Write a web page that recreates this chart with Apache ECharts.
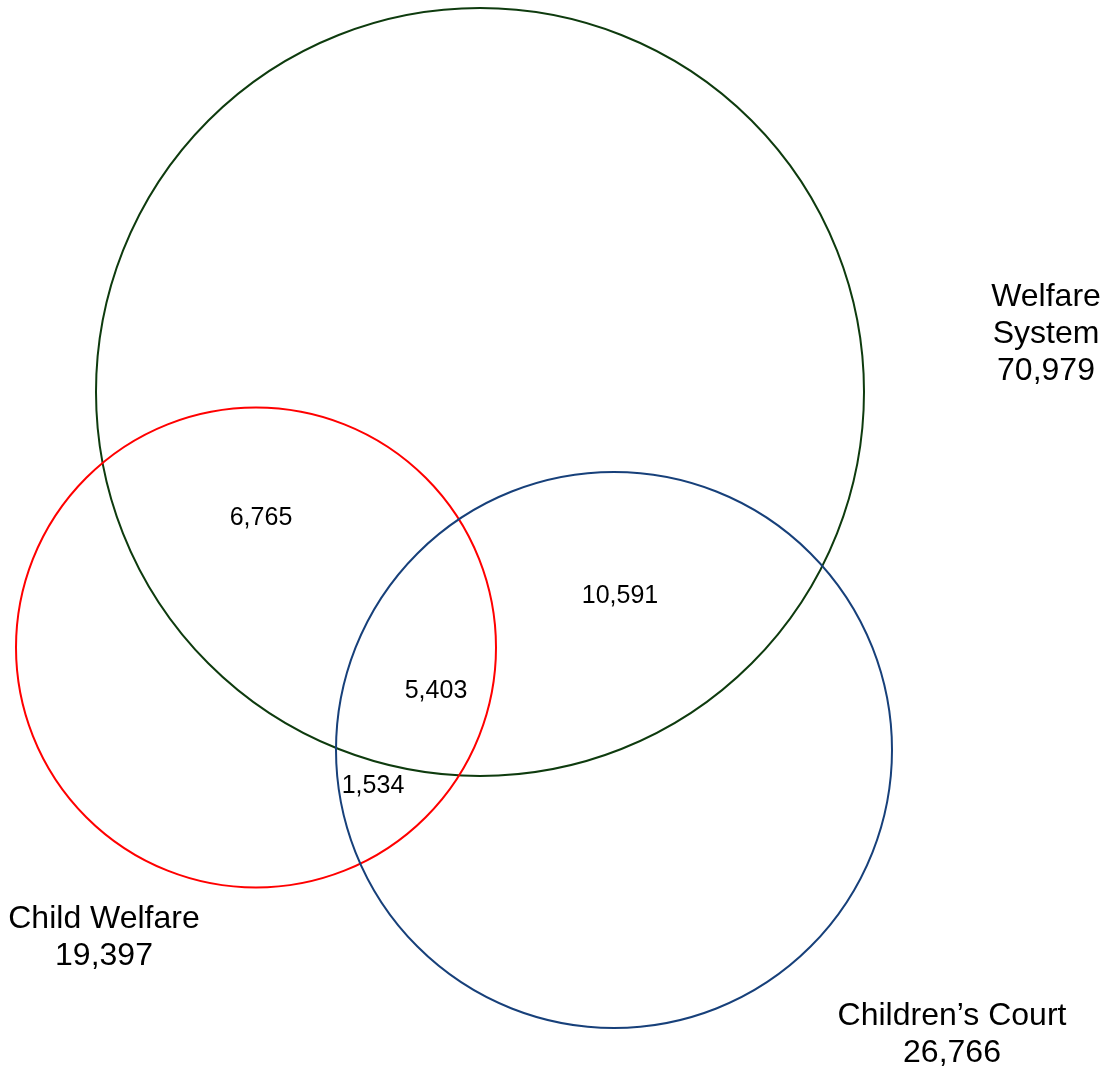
<!DOCTYPE html>
<html>
<head>
<meta charset="utf-8">
<script src="https://cdn.jsdelivr.net/npm/echarts@6/dist/echarts.min.js"></script>
<style>html,body{margin:0;padding:0;background:#fff;}#chart{width:1110px;height:1068px;}</style>
</head>
<body>
<div id="chart"></div>
<script>
// Sets
const setNames = ['Welfare System', 'Child Welfare', 'Children\u2019s Court'];
const setTotals = [70979, 19397, 26766];
// Circle geometry in diagram units
const circleX = [480, 256, 614];
const circleY = [392, 647.5, 750];
const circleR = [384, 240, 278];
const circleColors = ['#0e3b0e', '#ff0000', '#17407a'];
// Set label anchors
const setLabelX = [1046, 104, 952];
const setLabelY = [334, 938, 1035];
// Overlap regions
const regionNames = ['WS & CW', 'WS & CC', 'WS & CW & CC', 'CW & CC'];
const regionValues = [6765, 10591, 5403, 1534];
const regionX = [261, 620, 436, 373];
const regionY = [518, 596, 691, 786];

const fmt = v => v.toLocaleString('en-US');
const FONT = '"Liberation Sans", Arial, sans-serif';

function textItem(api, str, size, lh) {
  const c = api.coord([api.value(0), api.value(1)]);
  return {
    type: 'text',
    x: c[0], y: c[1],
    style: {
      text: str, fill: '#000000', font: size + 'px ' + FONT,
      fontSize: size, fontFamily: FONT, lineHeight: lh,
      align: 'center', verticalAlign: 'middle'
    }
  };
}

const chart = echarts.init(document.getElementById('chart'));
chart.setOption({
  backgroundColor: '#ffffff',
  animation: false,
  grid: { left: 0, right: 0, top: 0, bottom: 0 },
  xAxis: { type: 'value', min: 0, max: 1110, show: false },
  yAxis: { type: 'value', min: 0, max: 1068, inverse: true, show: false },
  series: [
    {
      type: 'custom',
      data: circleX.map((x, i) => [x, circleY[i], circleR[i], i]),
      renderItem: function (params, api) {
        const c = api.coord([api.value(0), api.value(1)]);
        const r = api.size([api.value(2), 0])[0];
        const idx = api.value(3);
        return {
          type: 'circle',
          shape: { cx: c[0], cy: c[1], r: r },
          style: { fill: 'none', stroke: circleColors[idx], lineWidth: 2 }
        };
      },
      silent: true
    },
    {
      type: 'custom',
      data: setLabelX.map((x, i) => [x, setLabelY[i], i]),
      renderItem: function (params, api) {
        const i = api.value(2);
        const nm = setNames[i] === 'Welfare System' ? 'Welfare\nSystem' : setNames[i];
        return textItem(api, nm + '\n' + fmt(setTotals[i]), 32, 37);
      },
      silent: true
    },
    {
      type: 'custom',
      data: regionX.map((x, i) => [x, regionY[i], i]),
      renderItem: function (params, api) {
        const i = api.value(2);
        return textItem(api, fmt(regionValues[i]), 25, 30);
      },
      silent: true
    }
  ]
});
</script>
</body>
</html>
